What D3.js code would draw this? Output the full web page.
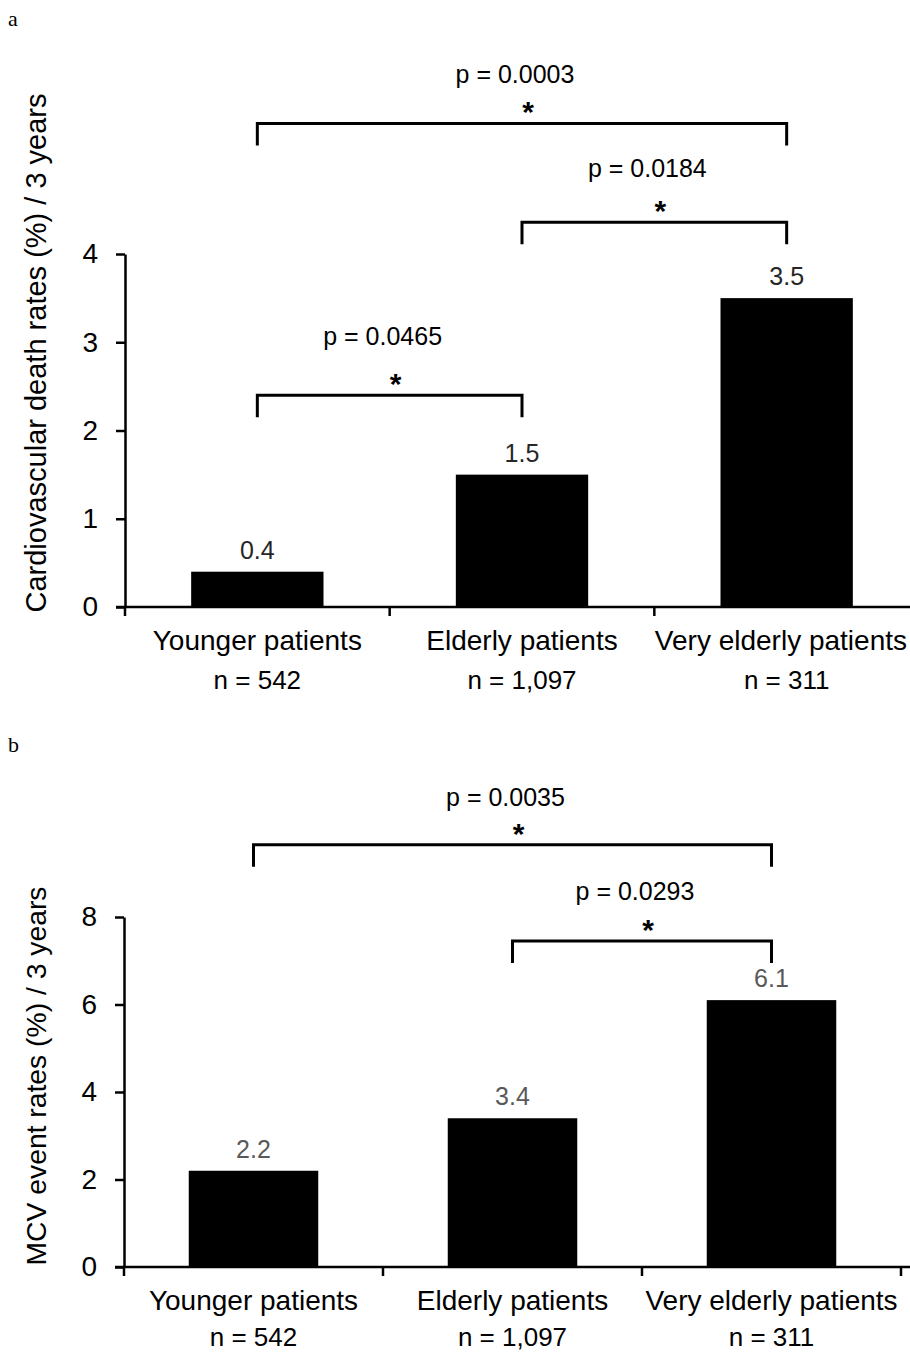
<!DOCTYPE html>
<html lang="en">
  <head>
    <meta charset="utf-8">
    <title>Cardiovascular death and MCV event rates by age group</title>
    <style type="text/css">
      body { margin: 0; background: #fff; }
      svg { display: block; }
      text { font-family: "Liberation Sans", Arial, sans-serif; fill: #000; }
    </style>
  </head>
  <body>
    <script type="text/javascript" src="https://cdn.jsdelivr.net/npm/d3@7"></script>
    <script type="text/javascript">
    // ===================================
    // DATA
    // ===================================
      var categories = ["Younger patients", "Elderly patients", "Very elderly patients"];
      var sampleSizes = ["n = 542", "n = 1,097", "n = 311"];

      // panel a : cardiovascular death rates (%) / 3 years
      var cvDeathRates = [0.4, 1.5, 3.5];
      var cvDeathTicks = [0, 1, 2, 3, 4];
      var cvDeathComparisons = [
        { from: 0, to: 1, p: "p = 0.0465" },
        { from: 1, to: 2, p: "p = 0.0184" },
        { from: 0, to: 2, p: "p = 0.0003" }
      ];

      // panel b : MCV event rates (%) / 3 years
      var mcvEventRates = [2.2, 3.4, 6.1];
      var mcvEventTicks = [0, 2, 4, 6, 8];
      var mcvEventComparisons = [
        { from: 1, to: 2, p: "p = 0.0293" },
        { from: 0, to: 2, p: "p = 0.0035" }
      ];

    // ===================================
    // LAYOUT
    // ===================================
      var W = 910, H = 1353;
      var panels = [
        {
          letter: "a", letterY: 26,
          title: "Cardiovascular death rates (%) / 3 years", titleY: 353, titleSize: 29,
          values: cvDeathRates, ticks: cvDeathTicks, comparisons: cvDeathComparisons,
          xRange: [125, 919], yRange: [607, 254], nGap: 82,
          bracketLevels: [2.40, 4.36, 5.48], pGaps: [50, 45, 40],
          labelColor: "#262626"
        },
        {
          letter: "b", letterY: 752,
          title: "MCV event rates (%) / 3 years", titleY: 1076, titleSize: 28.3,
          values: mcvEventRates, ticks: mcvEventTicks, comparisons: mcvEventComparisons,
          xRange: [124, 901], yRange: [1267, 917], nGap: 79,
          bracketLevels: [7.45, 9.65], pGaps: [41, 39],
          labelColor: "#595959"
        }
      ];

      var svg = d3.select("body")
        .append("svg")
        .attr("width", W)
        .attr("height", H);

      panels.forEach(function(pn) {
        var g = svg.append("g");

        var x = d3.scaleBand()
          .domain(categories)
          .range(pn.xRange)
          .paddingInner(0.5)
          .paddingOuter(0.25);

        var y = d3.scaleLinear()
          .domain([0, d3.max(pn.ticks)])
          .range(pn.yRange);

        // panel letter
        g.append("text")
          .attr("x", 8)
          .attr("y", pn.letterY)
          .style("font-family", "'Liberation Serif', 'Times New Roman', serif")
          .style("font-size", "22px")
          .text(pn.letter);

        // bars
        g.selectAll("rect.bar")
          .data(pn.values)
          .enter()
          .append("rect")
          .attr("class", "bar")
          .attr("x", function(d, i) { return x(categories[i]); })
          .attr("y", function(d) { return y(d); })
          .attr("width", x.bandwidth())
          .attr("height", function(d) { return y(0) - y(d); })
          .attr("fill", "#000");

        // value labels
        g.selectAll("text.value")
          .data(pn.values)
          .enter()
          .append("text")
          .attr("class", "value")
          .attr("x", function(d, i) { return x(categories[i]) + x.bandwidth() / 2; })
          .attr("y", function(d) { return y(d) - 13; })
          .attr("text-anchor", "middle")
          .style("font-size", "25px")
          .style("fill", pn.labelColor)
          .text(function(d) { return d3.format(".1f")(d); });

        // y axis
        var yAxis = d3.axisLeft(y)
          .tickValues(pn.ticks)
          .tickFormat(d3.format("d"))
          .tickSize(9)
          .tickSizeOuter(0)
          .tickPadding(18);

        var ya = g.append("g")
          .attr("transform", "translate(" + pn.xRange[0] + ",0)")
          .call(yAxis);
        ya.select(".domain").attr("stroke-width", 2.5);
        ya.selectAll(".tick line").attr("stroke-width", 2.5);
        ya.selectAll(".tick text")
          .style("font-family", "'Liberation Sans', Arial, sans-serif")
          .style("font-size", "28px")
          .attr("fill", "#000");

        // y title
        g.append("text")
          .attr("transform", "translate(46," + pn.titleY + ") rotate(-90)")
          .attr("text-anchor", "middle")
          .style("font-size", pn.titleSize + "px")
          .text(pn.title);

        // x axis with ticks at the category boundaries
        var x0 = pn.xRange[0];
        g.append("line")
          .attr("x1", x0 - 9)
          .attr("x2", W + 20)
          .attr("y1", y(0))
          .attr("y2", y(0))
          .attr("stroke", "#000")
          .attr("stroke-width", 2.5);

        g.selectAll("line.xtick")
          .data(d3.range(categories.length + 1))
          .enter()
          .append("line")
          .attr("class", "xtick")
          .attr("x1", function(i) { return x0 + i * x.step(); })
          .attr("x2", function(i) { return x0 + i * x.step(); })
          .attr("y1", y(0))
          .attr("y2", y(0) + 9)
          .attr("stroke", "#000")
          .attr("stroke-width", 2.5);

        // category labels (kept inside the page on the right)
        g.selectAll("text.cat")
          .data(categories)
          .enter()
          .append("text")
          .attr("class", "cat")
          .attr("x", function(d) { return x(d) + x.bandwidth() / 2; })
          .attr("y", y(0) + 43)
          .attr("text-anchor", "middle")
          .style("font-size", "28px")
          .text(function(d) { return d; })
          .each(function() {
            var t = d3.select(this);
            var half = this.getComputedTextLength() / 2;
            var cx = +t.attr("x");
            if (cx + half > W - 3) t.attr("x", W - 3 - half);
          });

        g.selectAll("text.n")
          .data(sampleSizes)
          .enter()
          .append("text")
          .attr("class", "n")
          .attr("x", function(d, i) { return x(categories[i]) + x.bandwidth() / 2; })
          .attr("y", y(0) + pn.nGap)
          .attr("text-anchor", "middle")
          .style("font-size", "26px")
          .text(function(d) { return d; });

        // significance brackets
        pn.comparisons.forEach(function(c, k) {
          var xa = x(categories[c.from]) + x.bandwidth() / 2;
          var xb = x(categories[c.to]) + x.bandwidth() / 2;
          var yl = y(pn.bracketLevels[k]);
          var xm = (xa + xb) / 2;

          g.append("path")
            .attr("d", d3.line()([[xa, yl + 22], [xa, yl], [xb, yl], [xb, yl + 22]]))
            .attr("fill", "none")
            .attr("stroke", "#000")
            .attr("stroke-width", 3);

          g.append("text")
            .attr("x", xm - 7)
            .attr("y", yl - pn.pGaps[k])
            .attr("text-anchor", "middle")
            .style("font-size", "25px")
            .text(c.p);

          g.append("text")
            .attr("x", xm + 6)
            .attr("y", yl - 18 + 17)
            .attr("text-anchor", "middle")
            .style("font-size", "30px")
            .style("font-weight", "bold")
            .text("*");
        });
      });
    </script>
  </body>
</html>
